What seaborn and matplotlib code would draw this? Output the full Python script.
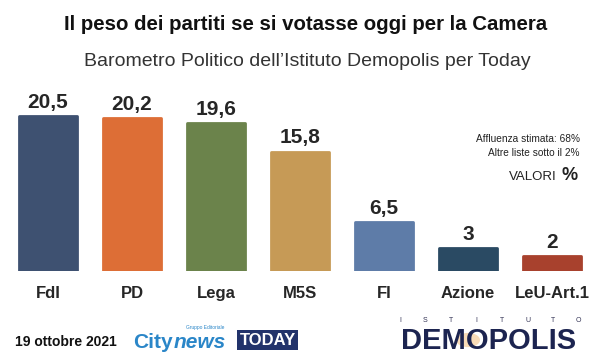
import matplotlib
matplotlib.use("Agg")
import matplotlib.pyplot as plt
import pandas as pd
import seaborn as sns
from matplotlib.patches import Rectangle, Circle

# data
parties = ["FdI", "PD", "Lega", "M5S", "FI", "Azione", "LeU-Art.1"]
values = [20.5, 20.2, 19.6, 15.8, 6.5, 3, 2]
value_labels = ["20,5", "20,2", "19,6", "15,8", "6,5", "3", "2"]
colors = ["#3e5171", "#dd6e36", "#6b834b", "#c69a56", "#5e7ca8", "#2a4a63", "#a8412d"]

TITLE = "Il peso dei partiti se si votasse oggi per la Camera"
SUBTITLE = "Barometro Politico dell\u2019Istituto Demopolis per Today"
DATE = "19 ottobre 2021"

sns.set_style("white")
plt.rcParams["font.family"] = ["Liberation Sans", "DejaVu Sans"]

W, H = 600, 355
fig = plt.figure(figsize=(6, 3.55), dpi=100)


def px(x, y):
    # pixel position (from top-left) -> figure fraction
    return x / W, 1 - y / H


# axes placed so bars are centred at 48 + 84*i with baseline at y=271
ax = fig.add_axes([6 / W, (H - 271) / H, 588 / W, 189 / H])
df = pd.DataFrame({"party": parties, "value": values})
sns.barplot(data=df, x="party", y="value", hue="party", palette=colors,
            saturation=1, width=0.70, legend=False, ax=ax)
for p, c in zip(ax.patches, colors):
    p.set_edgecolor(c)
    p.set_linewidth(2)
    p.set_joinstyle("round")

ax.set_xlim(-0.5, 6.5)
ax.set_ylim(0, 25)
ax.set_xlabel("")
ax.set_ylabel("")
ax.set_yticks([])
ax.set_xticks([])
sns.despine(ax=ax, left=True, bottom=True)

for i, (v, lab) in enumerate(zip(values, value_labels)):
    ax.annotate(lab, (i, v), xytext=(0, 3), textcoords="offset points",
                ha="center", va="bottom", fontsize=15, fontweight="bold")
    ax.annotate(parties[i], (i, 0), xytext=(0, -16.5), textcoords="offset points",
                ha="center", va="center", fontsize=12, fontweight="bold")

# titles
fig.text(*px(306, 24), TITLE, ha="center", va="center", fontsize=14.7,
         fontweight="bold", color="#111111")
fig.text(*px(307, 61), SUBTITLE, ha="center", va="center", fontsize=14,
         color="#333333")

# notes
fig.text(*px(580, 139), "Affluenza stimata: 68%", ha="right", va="center",
         fontsize=7.3, color="#222222")
fig.text(*px(580, 153), "Altre liste sotto il 2%", ha="right", va="center",
         fontsize=7.3, color="#222222")
fig.text(*px(557, 177), "VALORI", ha="right", va="center", fontsize=9.5,
         color="#222222")
fig.text(*px(561, 176), "%", ha="left", va="center", fontsize=13,
         fontweight="bold", color="#222222")

# footer
fig.text(*px(15, 342), DATE, ha="left", va="center", fontsize=10,
         fontweight="bold", color="#111111")

fig.canvas.draw()
r = fig.canvas.get_renderer()
city = fig.text(*px(133, 343), "City", ha="left", va="center", fontsize=15,
                fontweight="bold", color="#2a86c8")
city_end = city.get_window_extent(r).x1
fig.text(city_end / W + 1 / W, 1 - 343 / H, "news", ha="left", va="center",
         fontsize=15, fontweight="bold", style="italic", color="#2a86c8")
fig.text(*px(205, 328), "Gruppo Editoriale", ha="center", va="center",
         fontsize=3.5, color="#2a86c8")
fig.add_artist(Rectangle(px(237, 350), 61 / W, 20 / H, transform=fig.transFigure,
                         fc="#22336b", ec="none"))
fig.text(*px(267.5, 340.5), "TODAY", ha="center", va="center", fontsize=12,
         fontweight="bold", color="white")

fig.add_artist(Circle(px(468, 340), 12 / W, transform=fig.transFigure,
                      fc="#f0b060", ec="none", alpha=0.45))
for k, ch in enumerate("ISTITUTO"):
    fig.text(*px(400 + k * 25.5, 321), ch, ha="center", va="center",
             fontsize=5, color="#333355")
fig.text(*px(489, 341), "DEMOPOLIS", ha="center", va="center",
         fontsize=21, fontweight="heavy", color="#1c2450")

fig.savefig("out.png", dpi=100)
